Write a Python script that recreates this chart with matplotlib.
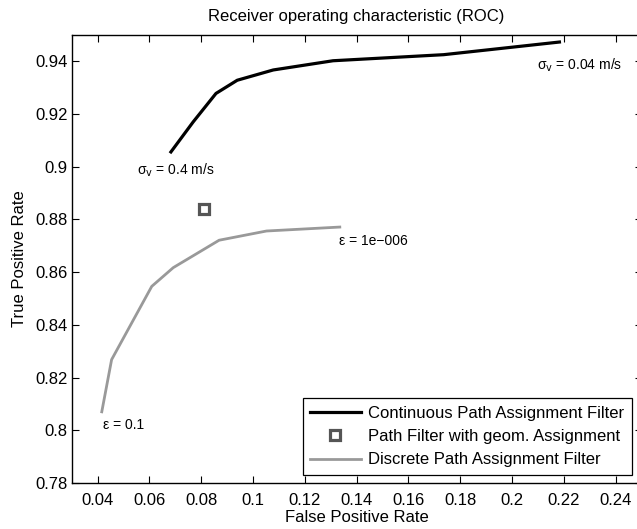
import matplotlib.pyplot as plt

plt.rcParams["font.family"] = ["Liberation Sans", "DejaVu Sans"]

# Continuous path assignment filter (sigma_v from 0.4 down to 0.04 m/s)
fpr_cont = [0.0683, 0.0769, 0.0857, 0.0939, 0.1078, 0.1309, 0.1736, 0.2183]
tpr_cont = [0.9056, 0.9170, 0.9278, 0.9328, 0.9367, 0.9402, 0.9425, 0.9473]

# Discrete path assignment filter (epsilon from 0.1 down to 1e-6)
fpr_disc = [0.0416, 0.0454, 0.0609, 0.0692, 0.0869, 0.1052, 0.1335]
tpr_disc = [0.8070, 0.8268, 0.8546, 0.8617, 0.8721, 0.8756, 0.8771]

# Path filter with geometric assignment (single operating point)
fpr_geom = [0.0811]
tpr_geom = [0.8838]

xticks = [0.04, 0.06, 0.08, 0.1, 0.12, 0.14, 0.16, 0.18, 0.2, 0.22, 0.24]
xtick_labels = ["0.04", "0.06", "0.08", "0.1", "0.12", "0.14", "0.16", "0.18", "0.2", "0.22", "0.24"]
yticks = [0.78, 0.8, 0.82, 0.84, 0.86, 0.88, 0.9, 0.92, 0.94]
ytick_labels = ["0.78", "0.8", "0.82", "0.84", "0.86", "0.88", "0.9", "0.92", "0.94"]

fig = plt.figure(figsize=(6.37, 5.29), dpi=100)
ax = fig.add_axes([0.1126, 0.087, 0.8945, 0.847])

ax.plot(fpr_cont, tpr_cont, color="black", lw=2.3,
        label="Continuous Path Assignment Filter")
ax.plot(fpr_geom, tpr_geom, ls="none", marker="s", ms=6.8, mfc="white",
        mec="#555555", mew=2.3, label="Path Filter with geom. Assignment")
ax.plot(fpr_disc, tpr_disc, color="#999999", lw=2.0,
        label="Discrete Path Assignment Filter")

# labels at the ends of the curves
ax.text(0.0552, 0.8987, "σ$_\\mathrm{v}$ = 0.4 m/s", fontsize=10, va="center")
ax.text(0.2095, 0.9386, "σ$_\\mathrm{v}$ = 0.04 m/s", fontsize=10, va="center")
ax.text(0.1331, 0.8717, "ε = 1e\u2212006", fontsize=10, va="center")
ax.text(0.0421, 0.8021, "ε = 0.1", fontsize=10, va="center")

ax.set_xlim(0.03, 0.25)
ax.set_ylim(0.78, 0.95)
ax.set_xticks(xticks)
ax.set_xticklabels(xtick_labels)
ax.set_yticks(yticks)
ax.set_yticklabels(ytick_labels)
ax.tick_params(direction="in", top=True, right=True, labelsize=12, length=5, width=0.8)
ax.tick_params(axis="x", pad=7)
ax.tick_params(axis="y", pad=3)
for s in ax.spines.values():
    s.set_linewidth(1.0)

ax.set_xlabel("False Positive Rate", fontsize=12, labelpad=2)
ax.set_ylabel("True Positive Rate", fontsize=12, labelpad=6)
ax.set_title("Receiver operating characteristic (ROC)", fontsize=12, pad=10)

leg = ax.legend(loc="lower right", bbox_to_anchor=(0.9833, 0.018), fontsize=12,
                fancybox=False, edgecolor="black", framealpha=1,
                handlelength=3.05, borderpad=0.45, labelspacing=0.5,
                handletextpad=0.45, borderaxespad=0)
leg.get_frame().set_linewidth(0.9)

plt.savefig("out.png", dpi=100)
